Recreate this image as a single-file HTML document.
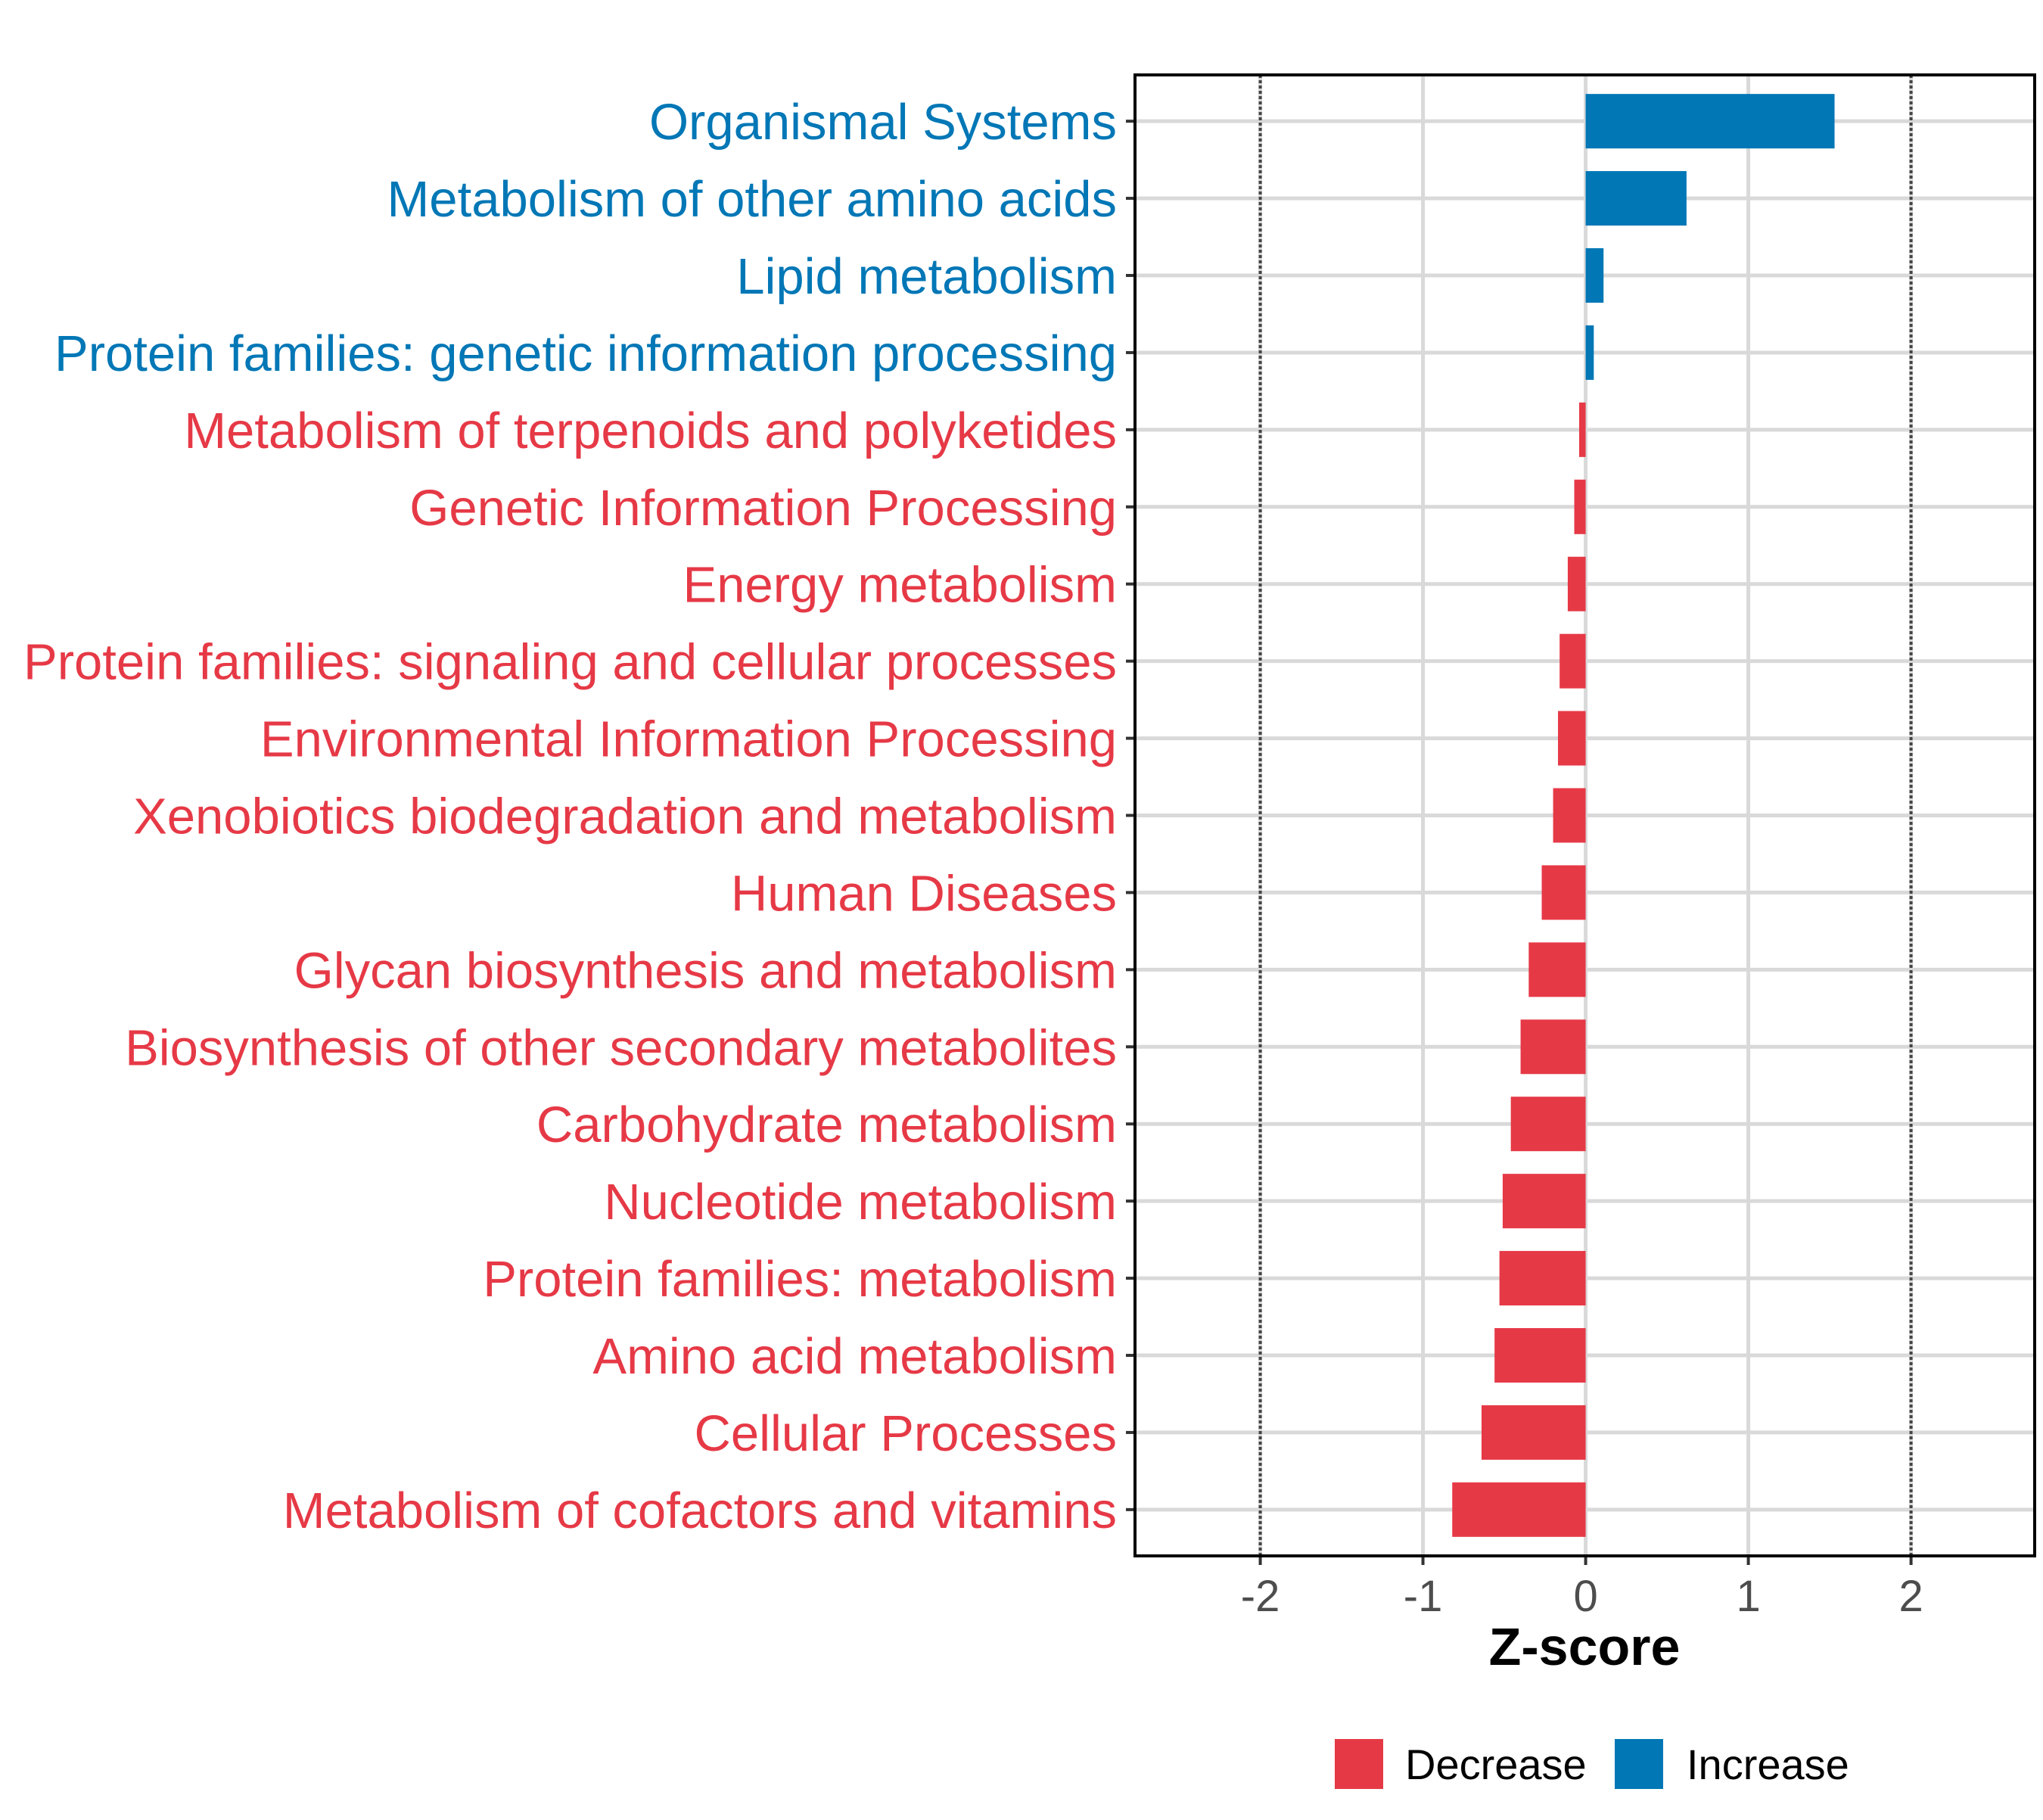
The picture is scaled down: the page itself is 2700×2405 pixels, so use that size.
<!DOCTYPE html>
<html><head><meta charset="utf-8"><style>
html,body{margin:0;padding:0;background:#fff;}
svg text{font-family:"Liberation Sans",sans-serif;}
</style></head><body>
<svg id="chart" xmlns="http://www.w3.org/2000/svg" width="2700" height="2400" viewBox="0 0 2700 2400">
<rect width="2700" height="2400" fill="#fff"/>
<g id="grid"></g><g id="bars"></g><g id="labels"></g><g id="xticks"></g>
<rect x="1500" y="99" width="1189" height="1957" fill="none" stroke="#000" stroke-width="4"/>
<text x="2094" y="2200" text-anchor="middle" font-size="70" font-weight="bold">Z-score</text>
<g>
<rect x="1764" y="2298" width="64" height="66" fill="#e63946"/>
<text font-size="56" x="1857" y="2351">Decrease</text>
<rect x="2134" y="2298" width="64" height="66" fill="#0177b6"/>
<text font-size="56" x="2229" y="2351">Increase</text>
</g>
</svg>
<script>
const categories = ["Organismal Systems","Metabolism of other amino acids","Lipid metabolism","Protein families: genetic information processing","Metabolism of terpenoids and polyketides","Genetic Information Processing","Energy metabolism","Protein families: signaling and cellular processes","Environmental Information Processing","Xenobiotics biodegradation and metabolism","Human Diseases","Glycan biosynthesis and metabolism","Biosynthesis of other secondary metabolites","Carbohydrate metabolism","Nucleotide metabolism","Protein families: metabolism","Amino acid metabolism","Cellular Processes","Metabolism of cofactors and vitamins"];
const zscores = [1.53,0.62,0.11,0.05,-0.04,-0.07,-0.11,-0.16,-0.17,-0.2,-0.27,-0.35,-0.4,-0.46,-0.51,-0.53,-0.56,-0.64,-0.82];
const xTickValues = [-2,-1,0,1,2];
const xTickLabels = ["-2","-1","0","1","2"];
const refLines = [-2,2];

const NS="http://www.w3.org/2000/svg";
const PL=1500, PR=2689, PT=99, PB=2056;
const X0=-2.77, X1=2.76;
function xs(v){return PL+(v-X0)/(X1-X0)*(PR-PL);}
function ys(i){const n=categories.length;return PT+(i+1-0.4)/(n+0.2)*(PB-PT);}
function mk(tag,attrs,parent){const e=document.createElementNS(NS,tag);for(const k in attrs)e.setAttribute(k,attrs[k]);parent.appendChild(e);return e;}
const grid=document.getElementById('grid'),bars=document.getElementById('bars'),labels=document.getElementById('labels'),xt=document.getElementById('xticks');
xTickValues.forEach((v,i)=>{
  const l=mk('line',{x1:xs(v),x2:xs(v),y1:PT,y2:PB,stroke:'#d9d9d9','stroke-width':5},grid);
  
  
  const t=mk('line',{x1:xs(v),x2:xs(v),y1:PB,y2:PB+12,stroke:'#333','stroke-width':4},xt);
  
  
  const tx=mk('text',{'font-size':58,fill:'#4d4d4d','text-anchor':'middle',x:xs(v),y:2129},xt);
  tx.textContent=xTickLabels[i];
  
  
});
categories.forEach((c,i)=>{
  const y=ys(i);
  const g=mk('line',{x1:PL,x2:PR,y1:y,y2:y,stroke:'#d9d9d9','stroke-width':5},grid);
  
  
});
refLines.forEach(v=>{
  const l=mk('line',{x1:xs(v),x2:xs(v),y1:PT,y2:PB,stroke:'#444','stroke-width':4,'stroke-dasharray':'4 3'},grid);
  
  
});
categories.forEach((c,i)=>{
  const y=ys(i), v=zscores[i], col=v>=0?'#0177b6':'#e63946';
  const bh=72;
  const r=mk('rect',{x:Math.min(xs(0),xs(v)),y:y-bh/2,width:Math.abs(xs(v)-xs(0)),height:bh,fill:col},bars);
  
  
  const tk=mk('line',{x1:PL-12,x2:PL,y1:y,y2:y,stroke:'#333','stroke-width':4},labels);
  
  
  const t=mk('text',{'font-size':67,fill:col,'text-anchor':'end',x:1476,y:y+24},labels);
  t.textContent=c;
  
  
});
</script>
</body></html>
